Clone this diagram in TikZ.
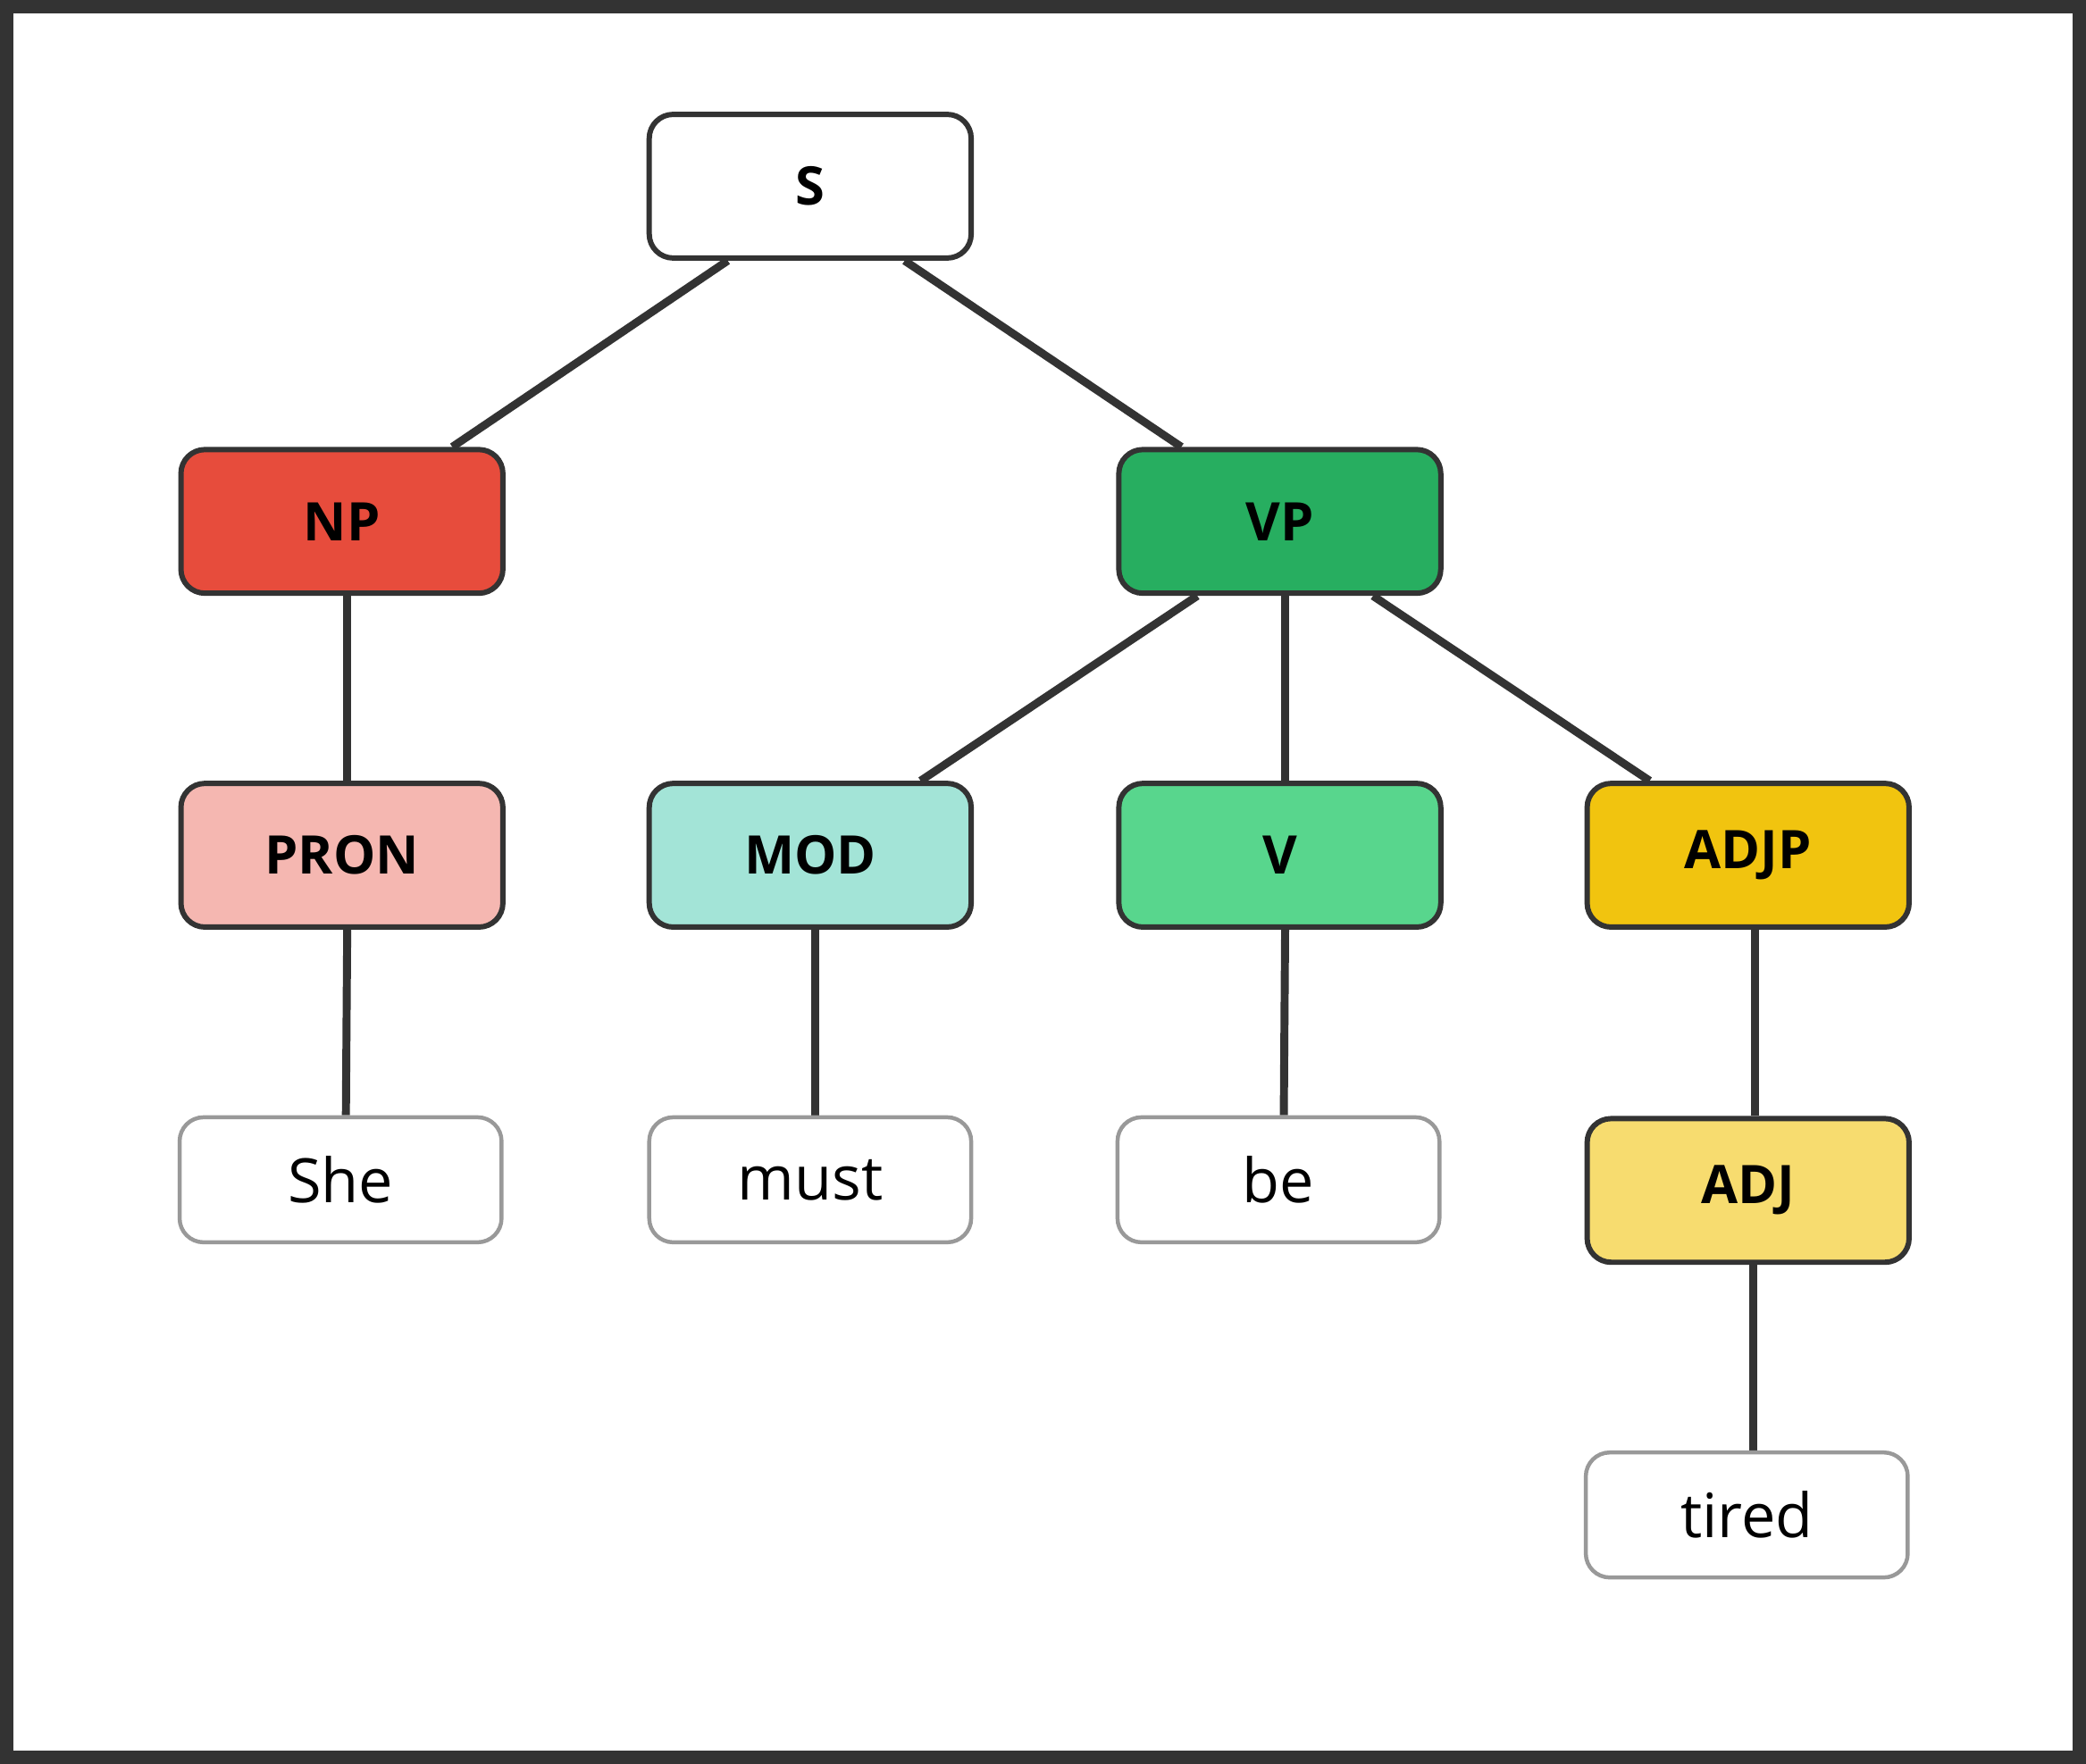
\documentclass[tikz,border=0pt]{standalone}
\usepackage{fontspec}
\setmainfont{Open Sans}
\usetikzlibrary{calc,backgrounds}
\definecolor{ink}{HTML}{333333}
\definecolor{leafc}{HTML}{999999}
\tikzset{
  cat/.style={draw=ink,line width=4pt,rounded corners=18pt,minimum width=242pt,minimum height=108pt,inner sep=0pt,font=\fontsize{40}{48}\selectfont\bfseries,text=black},
  leaf/.style={draw=leafc,fill=white,line width=3pt,rounded corners=18pt,minimum width=242pt,minimum height=94pt,inner sep=0pt,font=\fontsize{46}{54}\selectfont,text=black},
  edge/.style={draw=ink,line width=6pt}
}
\begin{document}
\begin{tikzpicture}[x=1pt,y=-1pt]
\useasboundingbox (0,0) rectangle (1568,1326);
\draw[ink,line width=10pt] (5,5) rectangle (1563,1321);
\node[cat,fill=white] (S) at (609,140) {S};
\node[cat,fill={rgb,255:red,231;green,76;blue,60}] (NP) at (257,392) {NP};
\node[cat,fill={rgb,255:red,39;green,174;blue,96}] (VP) at (962,392) {VP};
\node[cat,fill={rgb,255:red,245;green,183;blue,177}] (PRON) at (257,643) {PRON};
\node[cat,fill={rgb,255:red,163;green,228;blue,215}] (MOD) at (609,643) {MOD};
\node[cat,fill={rgb,255:red,88;green,214;blue,141}] (V) at (962,643) {V};
\node[cat,fill={rgb,255:red,241;green,196;blue,15}] (ADJP) at (1314,643) {ADJP};
\node[cat,fill={rgb,255:red,247;green,220;blue,111}] (ADJ) at (1314,895) {ADJ};
\node[leaf] (She) at (256,887) {She};
\node[leaf] (must) at (609,887) {must};
\node[leaf] (be) at (961,887) {be};
\node[leaf] (tired) at (1313,1139) {tired};
\begin{scope}[on background layer]
\draw[edge] ($(S.south)+(-62,0)$) -- ($(NP.north)+(83,0)$);
\draw[edge] ($(S.south)+(71,0)$) -- ($(VP.north)+(-74,0)$);
\draw[edge] ($(NP.south)+(4,0)$) -- ($(PRON.north)+(4,0)$);
\draw[edge] ($(PRON.south)+(4,0)$) -- ($(She.north)+(4,0)$);
\draw[edge] ($(VP.south)+(-62,0)$) -- ($(MOD.north)+(83,0)$);
\draw[edge] ($(VP.south)+(4,0)$) -- ($(V.north)+(4,0)$);
\draw[edge] ($(VP.south)+(70,0)$) -- ($(ADJP.north)+(-74,0)$);
\draw[edge] ($(MOD.south)+(4,0)$) -- ($(must.north)+(4,0)$);
\draw[edge] ($(V.south)+(4,0)$) -- ($(be.north)+(4,0)$);
\draw[edge] ($(ADJP.south)+(5,0)$) -- ($(ADJ.north)+(5,0)$);
\draw[edge] ($(ADJ.south)+(4,0)$) -- ($(tired.north)+(5,0)$);
\end{scope}
\end{tikzpicture}
\end{document}
